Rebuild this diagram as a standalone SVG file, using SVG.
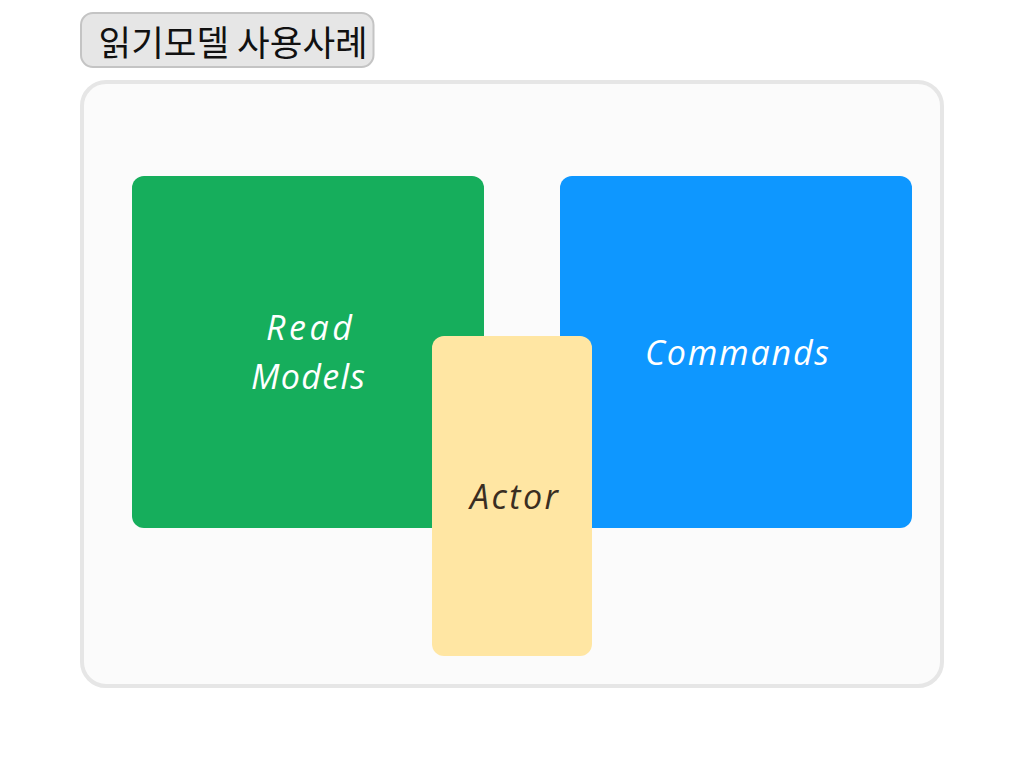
<svg xmlns="http://www.w3.org/2000/svg" width="1024" height="768" viewBox="0 0 1024 768">
<style>
.hand{font-family:"Open Sans","Liberation Sans",sans-serif;font-style:italic;font-size:34px;font-weight:400;text-anchor:middle}
.w{fill:#ffffff}
.d{fill:#3a2e22}
</style>
<rect width="1024" height="768" fill="#ffffff"/>
<g id="title">
<rect x="81" y="13" width="292.500" height="54" rx="12" fill="#e6e6e6" stroke="#c4c4c4" stroke-width="2"/>
<text x="98.500" y="56" font-family="'Noto Sans CJK KR','Noto Sans',sans-serif" font-size="35.500" fill="#111111">읽기모델 사용사례</text>
</g>
<g id="frame"><rect x="82" y="82" width="860" height="604" rx="24" fill="#fbfbfb" stroke="#e6e6e6" stroke-width="4"/></g>
<g id="connectors"/>
<g id="read-models">
<rect x="132" y="176" width="352" height="352" rx="12" fill="#16ae5c"/>
<text class="hand w" x="309" y="340" textLength="86" lengthAdjust="spacing">Read</text>
<text class="hand w" x="308" y="389" textLength="114" lengthAdjust="spacing">Models</text>
</g>
<g id="commands">
<rect x="560" y="176" width="352" height="352" rx="12" fill="#0e97ff"/>
<text class="hand w" x="737" y="365" textLength="184" lengthAdjust="spacing">Commands</text>
</g>
<g id="actor">
<rect x="432" y="336" width="160" height="320" rx="12" fill="#ffe6a3"/>
<text class="hand d" x="514" y="509" textLength="88" lengthAdjust="spacing">Actor</text>
</g>
</svg>
